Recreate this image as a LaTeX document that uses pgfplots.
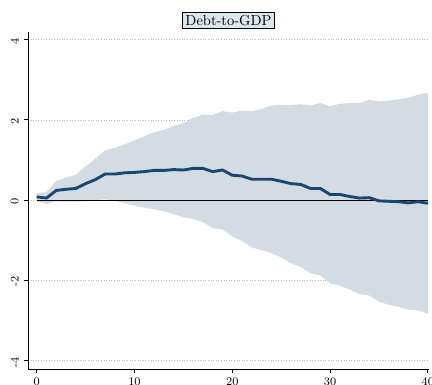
\documentclass[border=0pt]{standalone}
\usepackage{pgfplots}
\pgfplotsset{compat=1.18}
\usepackage{pgfplotstable}
\usepgfplotslibrary{fillbetween}
\definecolor{band}{RGB}{211,219,227}
\definecolor{navyline}{RGB}{26,71,111}
\definecolor{titlefill}{RGB}{220,231,237}
\pgfplotstableread{
x med up lo
0 0.08 0.17 -0.03
1 0.05 0.20 -0.10
2 0.24 0.48 -0.03
3 0.27 0.56 -0.04
4 0.29 0.63 -0.04
5 0.41 0.84 -0.03
6 0.51 1.03 0.00
7 0.65 1.24 0.02
8 0.65 1.30 -0.02
9 0.68 1.39 -0.08
10 0.69 1.49 -0.14
11 0.71 1.59 -0.19
12 0.74 1.69 -0.23
13 0.74 1.75 -0.28
14 0.76 1.85 -0.35
15 0.75 1.92 -0.43
16 0.79 2.05 -0.47
17 0.79 2.13 -0.55
18 0.71 2.12 -0.70
19 0.75 2.22 -0.73
20 0.62 2.18 -0.91
21 0.60 2.23 -1.02
22 0.52 2.22 -1.18
23 0.52 2.27 -1.25
24 0.52 2.36 -1.32
25 0.47 2.37 -1.43
26 0.41 2.37 -1.57
27 0.39 2.39 -1.67
28 0.29 2.36 -1.82
29 0.29 2.42 -1.88
30 0.14 2.34 -2.08
31 0.14 2.40 -2.13
32 0.09 2.42 -2.23
33 0.05 2.42 -2.34
34 0.06 2.50 -2.38
35 -0.02 2.46 -2.53
36 -0.03 2.48 -2.61
37 -0.04 2.51 -2.66
38 -0.07 2.55 -2.73
39 -0.04 2.63 -2.75
40 -0.08 2.67 -2.83
}\irf
\begin{document}
\begin{tikzpicture}
\begin{axis}[
  scale only axis,
  width=276.7pt, height=232.5pt,
  xmin=-0.89, xmax=40.11,
  ymin=-4.21, ymax=4.19,
  axis lines=left,
  axis line style={-, black, line width=0.6pt},
  xtick={0,10,20,30,40},
  ytick={-4,-2,0,2,4},
  yticklabels={-4,-2,0,2,4},
  tick align=outside,
  major tick length=3pt,
  tick style={black, line width=0.6pt},
  tick label style={font=\footnotesize},
  yticklabel style={rotate=90, anchor=south, xshift=-1pt},
  ymajorgrids,
  grid style={gray!55, line width=0.5pt, dash pattern=on 0.5pt off 1.3pt},
  title={Debt-to-GDP},
  title style={at={(0.5,1)}, anchor=south, yshift=-4pt, draw=black, line width=0.6pt, fill=titlefill, inner sep=2pt, font=\normalsize},
  clip=false,
]
\addplot[draw=none, name path=U] table[x=x, y=up] {\irf};
\addplot[draw=none, name path=L] table[x=x, y=lo] {\irf};
\addplot[band, draw=none] fill between[of=U and L];
\addplot[black, line width=0.7pt] coordinates {(0,0) (40,0)};
\addplot[navyline, line width=2pt, line join=round] table[x=x, y=med] {\irf};
\end{axis}
\pgfresetboundingbox
\path[use as bounding box] ([xshift=-19.3pt, yshift=-11pt]current axis.south west) rectangle ([xshift=2.1pt, yshift=22.1pt]current axis.north east);
\end{tikzpicture}
\end{document}
